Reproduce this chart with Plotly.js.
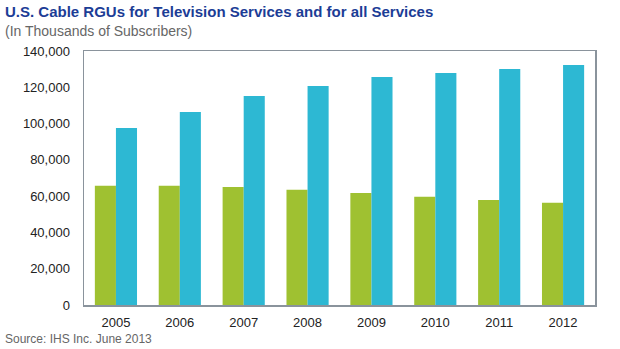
<!DOCTYPE html>
<html>
<head>
<meta charset="utf-8">
<script src="https://cdn.plot.ly/plotly-3.0.1.min.js"></script>
<style>html,body{margin:0;padding:0;background:#fff;}#chart{width:620px;height:349px;}</style>
</head>
<body>
<div id="chart"></div>
<script>
var years = ['2005','2006','2007','2008','2009','2010','2011','2012'];
var televisionRGUs = [65700, 65700, 65100, 63500, 61800, 59600, 57900, 56300];
var allServicesRGUs = [97600, 106400, 115200, 120700, 125700, 127900, 130100, 132300];
var yTicks = [0, 20000, 40000, 60000, 80000, 100000, 120000, 140000];
var yTickLabels = ['0','20,000','40,000','60,000','80,000','100,000','120,000','140,000'];

var fontFam = '"Liberation Sans", Arial, Helvetica, sans-serif';
var L = 84, R = 25, T = 51, B = 44, W = 620, H = 349;
var pw = W - L - R, ph = H - T - B;
function px(x){ return (x - L) / pw; }
function py(y){ return (H - B - y) / ph; }

var data = [
  {type:'bar', x: years, y: televisionRGUs, name:'Television', marker:{color:'#9FC131'}, hoverinfo:'x+y'},
  {type:'bar', x: years, y: allServicesRGUs, name:'All Services', marker:{color:'#2DB8D3'}, hoverinfo:'x+y'}
];

var layout = {
  width: W, height: H,
  margin: {l: L, r: R, t: T, b: B, pad: 0},
  paper_bgcolor: '#fff', plot_bgcolor: '#fff',
  showlegend: false,
  barmode: 'group', bargap: 0.34, bargroupgap: 0,
  font: {family: fontFam, color: '#222', size: 13},
  xaxis: {
    type: 'category', showgrid: false, zeroline: false,
    showline: true, linecolor: '#8a939c', linewidth: 1.5, mirror: true,
    ticks: '', tickfont: {size: 13, color: '#222'}, ticklabelstandoff: 5
  },
  yaxis: {
    range: [0, 140000], tickvals: yTicks, ticktext: yTickLabels,
    showgrid: false, zeroline: false,
    showline: true, linecolor: '#8a939c', linewidth: 1.5, mirror: true,
    ticks: '', tickfont: {size: 13, color: '#222'}, ticklabelstandoff: 10
  },
  annotations: [
    {text: '<b>U.S. Cable RGUs for Television Services and for all Services</b>', xref:'paper', yref:'paper',
     x: px(3), y: py(11.5), xanchor:'left', yanchor:'middle', showarrow:false,
     font:{family: fontFam, size: 15, color:'#1C3D96'}},
    {text: '(In Thousands of Subscribers)', xref:'paper', yref:'paper',
     x: px(3), y: py(31.5), xanchor:'left', yanchor:'middle', showarrow:false,
     font:{family: fontFam, size: 14, color:'#666'}},
    {text: 'Source: IHS Inc. June 2013', xref:'paper', yref:'paper',
     x: px(3), y: py(339), xanchor:'left', yanchor:'middle', showarrow:false,
     font:{family: fontFam, size: 12, color:'#666'}}
  ]
};

Plotly.newPlot('chart', data, layout, {staticPlot: true, displayModeBar: false});
</script>
</body>
</html>
